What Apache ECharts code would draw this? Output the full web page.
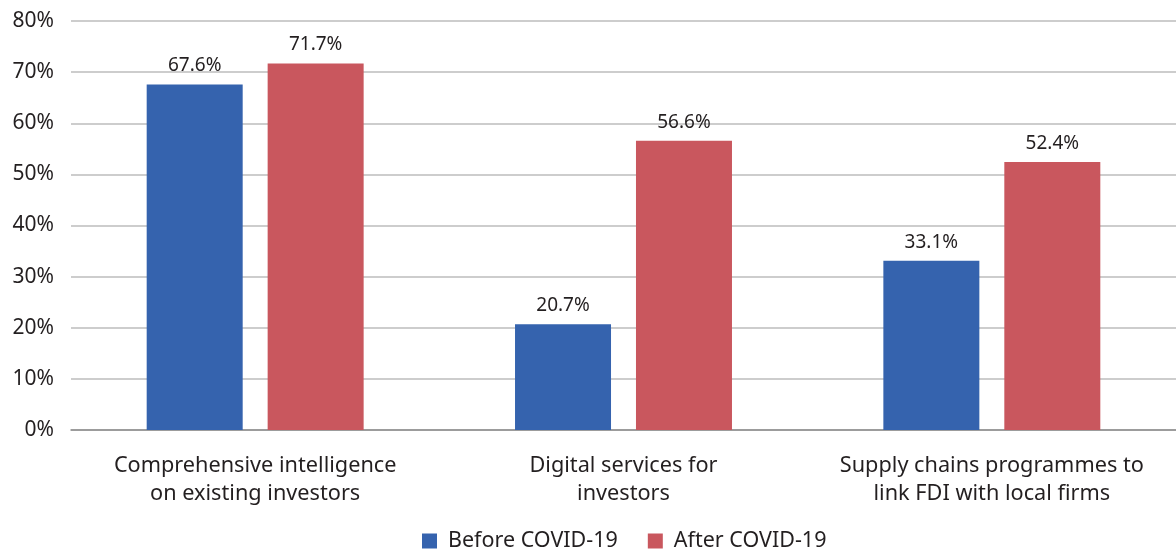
<!DOCTYPE html>
<html>
<head>
<meta charset="utf-8">
<script src="https://cdn.jsdelivr.net/npm/echarts@6/dist/echarts.min.js"></script>
<style>
  html, body { margin: 0; padding: 0; background: #fff; }
  #chart { width: 1176px; height: 552px; }
</style>
</head>
<body>
<div id="chart"></div>
<script>
// Share of investment promotion agencies offering each service
const categories = [
  'Comprehensive intelligence\non existing investors',
  'Digital services for\ninvestors',
  'Supply chains programmes to\nlink FDI with local firms'
];
const beforeCovid = [67.6, 20.7, 33.1];
const afterCovid = [71.7, 56.6, 52.4];
const seriesNames = ['Before COVID-19', 'After COVID-19'];

const FONT = '"Noto Sans", sans-serif';
const TEXT = '#231f20';

const chart = echarts.init(document.getElementById('chart'), null, { renderer: 'canvas' });

const labelOpt = {
  show: true,
  position: 'top',
  distance: 9,
  color: TEXT,
  fontFamily: FONT,
  fontSize: 19,
  formatter: p => p.value.toFixed(1) + '%'
};

chart.setOption({
  animation: false,
  textStyle: { fontFamily: FONT, color: TEXT },
  grid: { left: 71, right: 0, top: 21, bottom: 122, containLabel: false },
  legend: {
    bottom: -5,
    left: 417,
    itemWidth: 15,
    itemHeight: 15,
    itemGap: 30,
    icon: 'rect',
    textStyle: { fontFamily: FONT, fontSize: 21.5, color: TEXT, padding: [0, 0, 0, 6] },
    data: seriesNames
  },
  xAxis: {
    type: 'category',
    data: categories,
    axisLine: { lineStyle: { color: '#8c8c8c', width: 1.5 } },
    axisTick: { show: false },
    axisLabel: {
      interval: 0,
      margin: 22,
      color: TEXT,
      fontFamily: FONT,
      fontSize: 21.7,
      lineHeight: 28
    }
  },
  yAxis: {
    type: 'value',
    min: 0,
    max: 80,
    interval: 10,
    axisLine: { show: false },
    axisTick: { show: false },
    splitLine: { lineStyle: { color: '#bcbcbc', width: 1.5 } },
    axisLabel: {
      margin: 17,
      color: TEXT,
      fontFamily: FONT,
      fontSize: 21,
      formatter: '{value}%'
    }
  },
  series: [
    {
      name: seriesNames[0],
      type: 'bar',
      data: beforeCovid,
      barWidth: 96,
      barGap: '26%',
      itemStyle: { color: '#3563ae' },
      label: labelOpt
    },
    {
      name: seriesNames[1],
      type: 'bar',
      data: afterCovid,
      barWidth: 96,
      barGap: '26%',
      itemStyle: { color: '#c9575e' },
      label: labelOpt
    }
  ]
});
</script>
</body>
</html>
